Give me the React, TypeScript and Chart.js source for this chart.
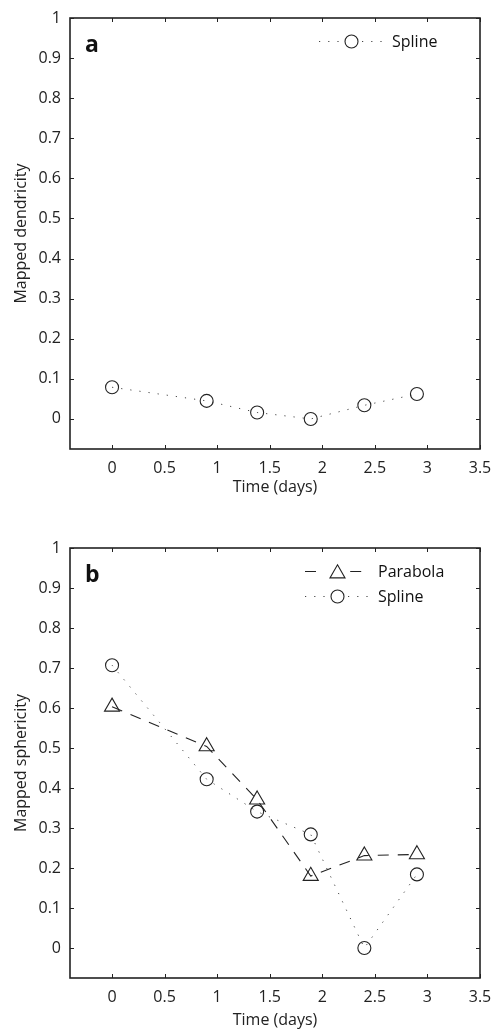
import React, { useEffect, useRef } from "react";
import { Chart, registerables } from "chart.js";

Chart.register(...registerables);

// ---- data ----
const timeDays = [0, 0.9, 1.38, 1.89, 2.4, 2.9];
const dendricitySpline = [0.079, 0.045, 0.016, 0.0, 0.034, 0.062];
const sphericityParabola = [0.603, 0.504, 0.371, 0.18, 0.231, 0.234];
const sphericitySpline = [0.707, 0.422, 0.341, 0.284, 0.0, 0.184];
const xTicks = [0, 0.5, 1, 1.5, 2, 2.5, 3, 3.5];
const yTicks = [0, 0.1, 0.2, 0.3, 0.4, 0.5, 0.6, 0.7, 0.8, 0.9, 1];
const xMin = -0.4;
const xMax = 3.5;
const yMin = -0.075;
const yMax = 1;

const FONT = '"Open Sans", "DejaVu Sans", sans-serif';
const INK = "#222";

const framePlugin = {
  id: "matlabFrame",
  afterDatasetsDraw(chart: any) {
    const { ctx, chartArea } = chart;
    const { left, right, top, bottom } = chartArea;
    const xs = chart.scales.x;
    const ys = chart.scales.y;
    const L = 4;
    ctx.save();
    ctx.strokeStyle = INK;
    ctx.lineWidth = 1;
    ctx.beginPath();
    xs.ticks.forEach((t: any) => {
      const px = Math.round(xs.getPixelForValue(t.value)) + 0.5;
      ctx.moveTo(px, bottom);
      ctx.lineTo(px, bottom - L);
      ctx.moveTo(px, top);
      ctx.lineTo(px, top + L);
    });
    ys.ticks.forEach((t: any) => {
      const py = Math.round(ys.getPixelForValue(t.value)) + 0.5;
      ctx.moveTo(left, py);
      ctx.lineTo(left + L, py);
      ctx.moveTo(right, py);
      ctx.lineTo(right - L, py);
    });
    ctx.stroke();
    ctx.lineWidth = 1.6;
    ctx.strokeRect(left, top, right - left, bottom - top);
    ctx.restore();
  },
  afterDraw(chart: any) {
    const opts = chart.options.plugins.matlabFrame || {};
    const { ctx, chartArea } = chart;
    ctx.save();
    // panel letter
    ctx.fillStyle = "#111";
    ctx.font = `bold 23px ${FONT}`;
    ctx.textBaseline = "alphabetic";
    ctx.textAlign = "left";
    ctx.fillText(opts.letter, chartArea.left + 15, chartArea.top + 34);
    // legend
    const startX = opts.legendX;
    const lineLen = 65;
    let rowY = chartArea.top + opts.legendY;
    chart.data.datasets.forEach((ds: any) => {
      const cx = startX + lineLen / 2;
      const r = ds.pointRadius;
      ctx.strokeStyle = ds.borderColor;
      ctx.lineWidth = ds.borderWidth;
      ctx.setLineDash(ds.borderDash || []);
      ctx.beginPath();
      ctx.moveTo(startX, rowY);
      ctx.lineTo(cx - r - 4, rowY);
      ctx.moveTo(cx + r + 4, rowY);
      ctx.lineTo(startX + lineLen, rowY);
      ctx.stroke();
      ctx.setLineDash([]);
      ctx.strokeStyle = ds.pointBorderColor;
      ctx.lineWidth = ds.pointBorderWidth;
      ctx.beginPath();
      if (ds.pointStyle === "triangle") {
        const my = rowY + 2;
        for (let k = 0; k < 3; k++) {
          const a = (k * 2 * Math.PI) / 3;
          const px = cx + Math.sin(a) * r;
          const py = my - Math.cos(a) * r;
          if (k === 0) ctx.moveTo(px, py);
          else ctx.lineTo(px, py);
        }
        ctx.closePath();
      } else {
        ctx.arc(cx, rowY, r, 0, Math.PI * 2);
      }
      ctx.stroke();
      ctx.fillStyle = "#111";
      ctx.font = `16px ${FONT}`;
      ctx.textBaseline = "middle";
      ctx.fillText(ds.label, startX + lineLen + 8, rowY + 1);
      rowY += 25;
    });
    ctx.restore();
  },
};

function splineDataset(values: number[]) {
  return {
    label: "Spline",
    data: timeDays.map((t, i) => ({ x: t, y: values[i] })),
    borderColor: "#444",
    borderWidth: 1,
    borderDash: [1.2, 8],
    pointStyle: "circle",
    pointRadius: 6.5,
    pointBorderColor: INK,
    pointBorderWidth: 1.1,
    pointBackgroundColor: "rgba(0,0,0,0)",
    tension: 0,
  };
}

function parabolaDataset(values: number[]) {
  return {
    label: "Parabola",
    data: timeDays.map((t, i) => ({ x: t, y: values[i] })),
    borderColor: INK,
    borderWidth: 1.1,
    borderDash: [11, 9],
    pointStyle: "triangle",
    pointRadius: 8.7,
    pointBorderColor: INK,
    pointBorderWidth: 1.1,
    pointBackgroundColor: "rgba(0,0,0,0)",
    tension: 0,
  };
}

function makeConfig(datasets: any[], yTitle: string, letter: string, legendX: number, xAxisHeight: number, titlePadBottom: number) {
  return {
    type: "line",
    data: { datasets },
    plugins: [framePlugin],
    options: {
      animation: false,
      responsive: false,
      devicePixelRatio: 1,
      layout: { padding: { top: 18, right: 12, left: 0, bottom: 0 } },
      plugins: {
        legend: { display: false },
        tooltip: { enabled: false },
        matlabFrame: { letter, legendX, legendY: 23.5 },
      },
      scales: {
        x: {
          type: "linear",
          min: xMin,
          max: xMax,
          afterBuildTicks: (s: any) => {
            s.ticks = xTicks.map((v) => ({ value: v }));
          },
          afterFit: (s: any) => {
            s.height = xAxisHeight;
            s.paddingLeft = 0;
            s.paddingRight = 0;
          },
          grid: { display: false, drawTicks: false },
          border: { display: false },
          ticks: {
            padding: 10,
            color: INK,
            font: { family: FONT, size: 16 },
            maxRotation: 0,
            autoSkip: false,
            callback: (v: any) => String(v),
          },
          title: {
            display: true,
            text: "Time (days)",
            color: INK,
            font: { family: FONT, size: 16 },
            padding: { top: 0, bottom: titlePadBottom },
          },
        },
        y: {
          type: "linear",
          min: yMin,
          max: yMax,
          afterBuildTicks: (s: any) => {
            s.ticks = yTicks.map((v) => ({ value: v }));
          },
          afterFit: (s: any) => {
            s.width = 70;
            s.paddingTop = 0;
            s.paddingBottom = 0;
          },
          grid: { display: false, drawTicks: false },
          border: { display: false },
          ticks: {
            padding: 9,
            color: INK,
            font: { family: FONT, size: 16 },
            autoSkip: false,
            callback: (v: any) => String(Math.round(v * 10) / 10),
          },
          title: {
            display: true,
            text: yTitle,
            color: INK,
            font: { family: FONT, size: 16 },
            padding: { top: 12, bottom: 0 },
          },
        },
      },
    },
  };
}

function Panel(props: { top: number; height: number; config: any }) {
  const ref = useRef<HTMLCanvasElement | null>(null);
  useEffect(() => {
    if (!ref.current) return;
    const chart = new Chart(ref.current, props.config);
    return () => chart.destroy();
  }, []);
  return (
    <div style={{ position: "absolute", left: 0, top: props.top, width: 492, height: props.height }}>
      <canvas ref={ref} width={492} height={props.height} style={{ width: 492, height: props.height, display: "block" }} />
    </div>
  );
}

export default function App() {
  const configA = makeConfig([splineDataset(dendricitySpline)], "Mapped dendricity", "a", 319, 51, 3);
  const configB = makeConfig(
    [parabolaDataset(sphericityParabola), splineDataset(sphericitySpline)],
    "Mapped sphericity",
    "b",
    305,
    55,
    3
  );
  return (
    <div style={{ position: "absolute", left: 0, top: 0, width: 492, height: 1033, background: "#fff" }}>
      <Panel top={0} height={500} config={configA} />
      <Panel top={530} height={503} config={configB} />
    </div>
  );
}
